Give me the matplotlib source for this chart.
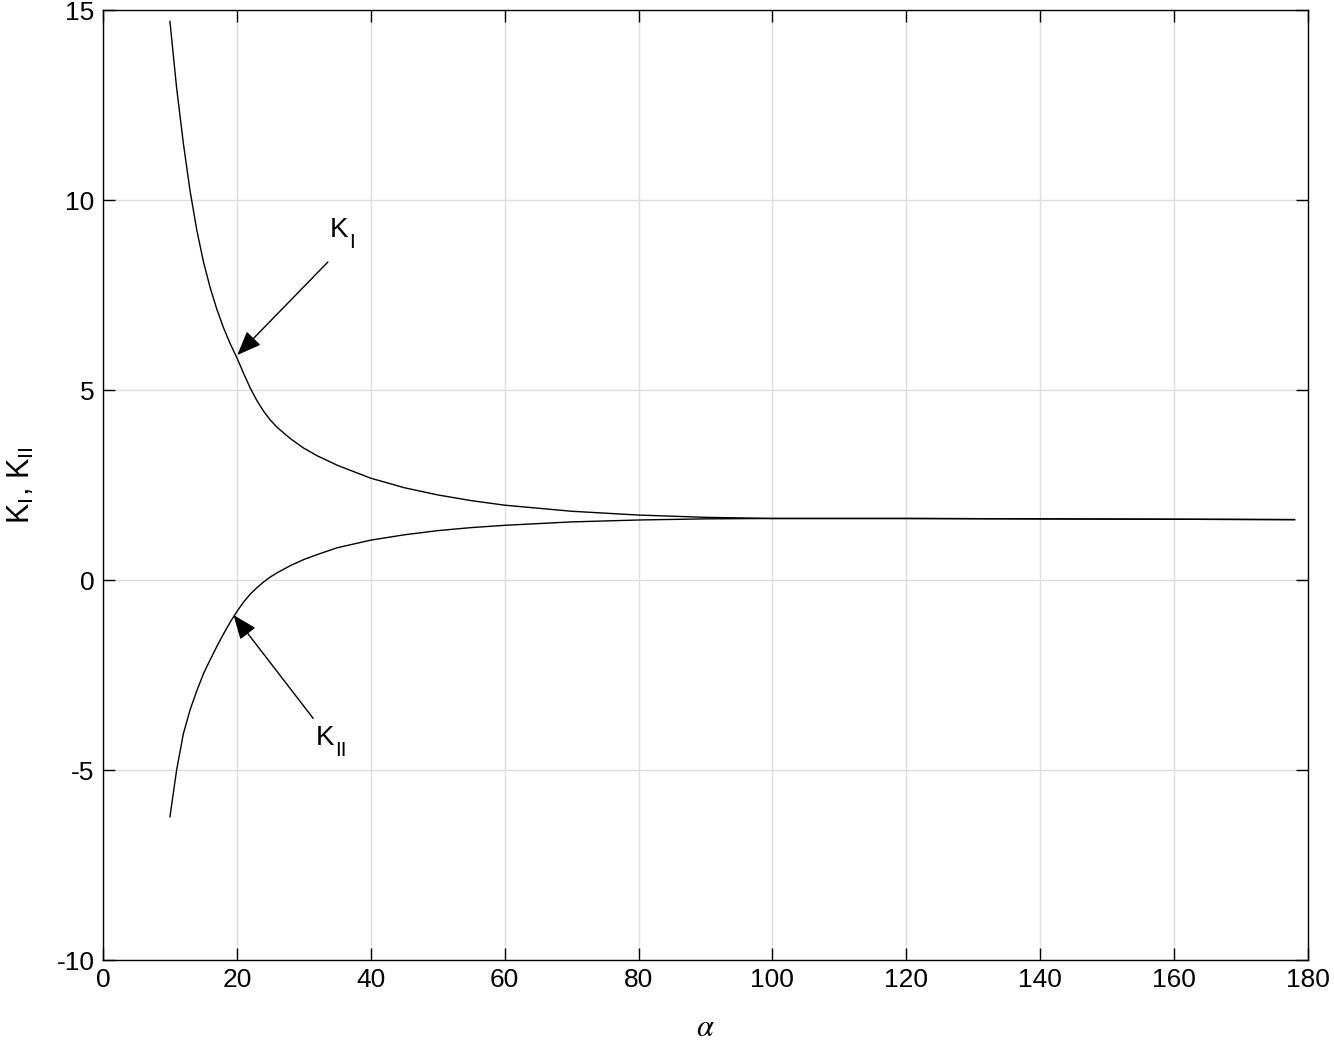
import numpy as np
import matplotlib
matplotlib.use('Agg')
import matplotlib.pyplot as plt

plt.rcParams['font.family'] = ['Liberation Sans', 'DejaVu Sans']
plt.rcParams['mathtext.fontset'] = 'stix'
plt.rcParams['axes.unicode_minus'] = False

# values
alpha = [10, 11, 12, 13, 14, 15, 16, 17, 18, 19, 20, 21, 22, 23, 24, 25, 26,
         28, 30, 32, 35, 40, 45, 50, 55, 60, 70, 80, 90, 100, 120, 140, 160, 178]
k_one = [14.7, 12.95, 11.5, 10.25, 9.22, 8.38, 7.7, 7.13, 6.64, 6.22, 5.85,
         5.44, 5.05, 4.72, 4.44, 4.21, 4.02, 3.72, 3.47, 3.27, 3.02, 2.68,
         2.43, 2.24, 2.09, 1.97, 1.81, 1.71, 1.65, 1.62, 1.62, 1.61, 1.60, 1.59]
k_two = [-6.23, -5.0, -4.05, -3.42, -2.92, -2.47, -2.1, -1.75, -1.42, -1.11,
         -0.83, -0.58, -0.37, -0.2, -0.05, 0.08, 0.19, 0.38, 0.54, 0.67, 0.85,
         1.05, 1.19, 1.3, 1.38, 1.44, 1.53, 1.58, 1.61, 1.62, 1.62, 1.61, 1.60, 1.59]

fig = plt.figure(figsize=(13.34, 10.45), dpi=100)
ax = fig.add_axes([0.0772, 0.0813, 0.9033, 0.9091])

ax.plot(alpha, k_one, color='black', linewidth=1.0)
ax.plot(alpha, k_two, color='black', linewidth=1.0)

ax.set_xlim(0, 180)
ax.set_ylim(-10, 15)
ax.set_xticks(np.arange(0, 181, 20))
ax.set_yticks(np.arange(-10, 16, 5))
ax.grid(True, color='#dedede', linewidth=1.0)
ax.set_axisbelow(True)
ax.tick_params(direction='in', top=True, right=True, length=8.5, width=1.0,
               labelsize=19, pad=6)
for s in ax.spines.values():
    s.set_linewidth(1.0)

ax.set_xlabel(r'$\alpha$', fontsize=22, labelpad=15)
ax.set_ylabel(r'K$_\mathregular{I}$, K$_\mathregular{II}$', fontsize=22, labelpad=14)

arrow = dict(arrowstyle='-|>,head_length=1.5,head_width=0.6', color='black',
             linewidth=1.0, shrinkA=0, shrinkB=0)
ax.annotate('', xy=(20.06, 5.92), xytext=(33.6, 8.37), arrowprops=arrow)
ax.annotate('', xy=(19.5, -0.92), xytext=(31.4, -3.64), arrowprops=arrow)

# labels: K with a dropped subscript
for x, y, sub in [(33.9, 9.2, 'I'), (31.8, -4.15, 'II')]:
    ax.text(x, y, 'K', fontsize=20, ha='left', va='center')
    ax.annotate(sub, xy=(x, y), xytext=(14, -9), textcoords='offset points',
                fontsize=15, ha='left', va='center')

fig.savefig('out.png', dpi=100)
